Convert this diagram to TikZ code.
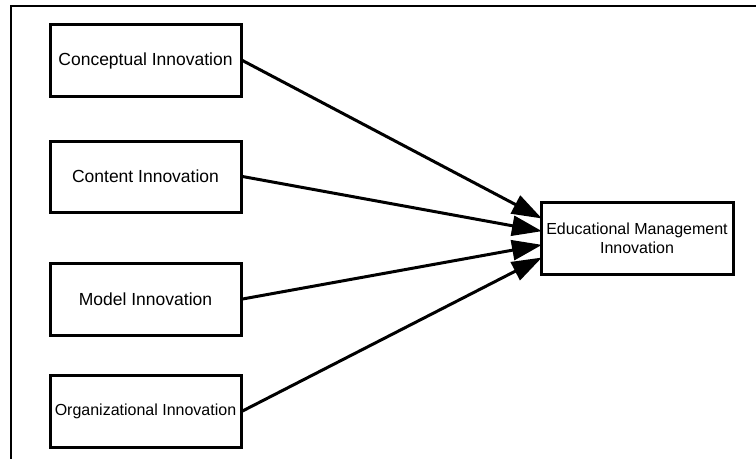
\documentclass[tikz,border=0pt]{standalone}
\usepackage{fontspec}
\setmainfont{Liberation Sans}
\usetikzlibrary{arrows.meta}
\begin{document}
\begin{tikzpicture}[x=1pt,y=-1pt,
  box/.style={draw, line width=3pt, rectangle, inner sep=0pt, align=center,
    font=\fontsize{16}{19}\selectfont},
  bigtext/.style={font=\fontsize{17.5}{20}\selectfont},
  link/.style={line width=3pt, -{Triangle[length=30pt,width=20pt]}, shorten >=-1pt}]
\useasboundingbox (0,0) rectangle (756,459);
% open frame: top and left edges only
\draw[line width=2pt] (756,6) -- (11,6) -- (11,459);
% source boxes
\node[box, bigtext, minimum width=191pt, minimum height=72pt] (concept) at (145.5,60.5) {Conceptual Innovation};
\node[box, bigtext, minimum width=191pt, minimum height=71pt] (content) at (145.5,176.5) {Content Innovation};
\node[box, bigtext, minimum width=191pt, minimum height=72pt] (model) at (145.5,299) {Model Innovation};
\node[box, minimum width=191pt, minimum height=72pt] (org) at (145.5,411) {Organizational Innovation};
% target box
\node[box, minimum width=192pt, minimum height=72pt] (edu) at (637,238) {Educational Management\\Innovation};
% arrow end points on the target's left edge
\coordinate (t1) at (541,218);
\coordinate (t2) at (541,231);
\coordinate (t3) at (541,245);
\coordinate (t4) at (541,258);
\draw[link] (concept.east) -- (t1);
\draw[link] (content.east) -- (t2);
\draw[link] (model.east) -- (t3);
\draw[link] (org.east) -- (t4);
\end{tikzpicture}
\end{document}
